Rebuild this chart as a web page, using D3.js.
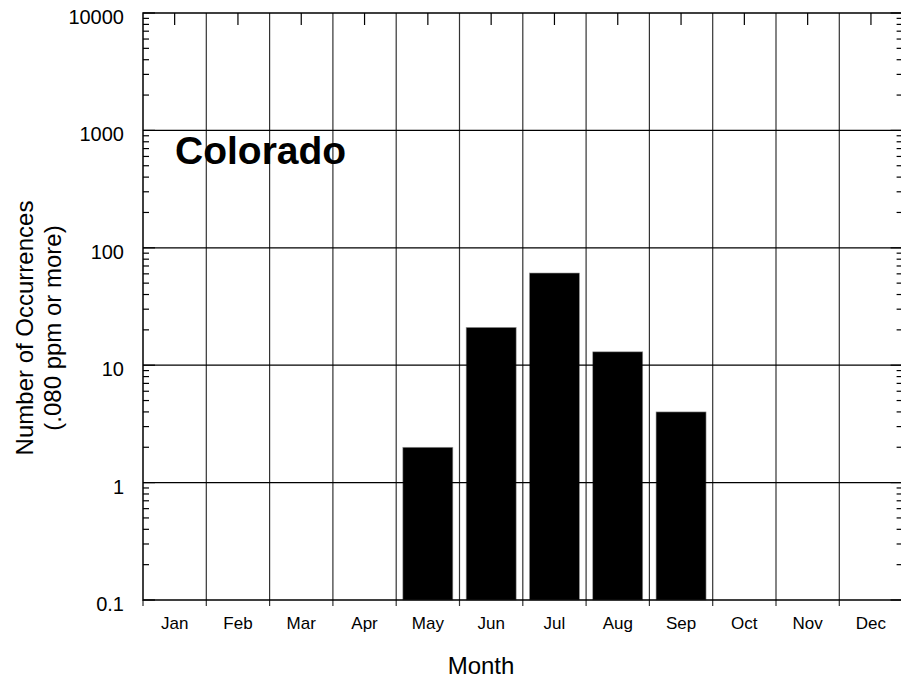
<html>
<head>
    <title>Colorado occurrences</title>
    <script src="https://cdn.jsdelivr.net/npm/d3@7"></script>
    <style type="text/css">
        body { margin: 0; background: white; }
        text { font-family: "Liberation Sans", Arial, sans-serif; fill: black; }
    </style>
</head>
<body>
    <script>
        var w = 901;
        var h = 684;
        var months = ["Jan", "Feb", "Mar", "Apr", "May", "Jun", "Jul", "Aug", "Sep", "Oct", "Nov", "Dec"];
        // 0 = no occurrences, nothing drawn on a log axis
        var counts = [0, 0, 0, 0, 2, 21, 61, 13, 4, 0, 0, 0];
        var yTicks = [0.1, 1, 10, 100, 1000, 10000];
        var yLabels = ["0.1", "1", "10", "100", "1000", "10000"];

        // plot box (not "top": that name is taken by window.top)
        var pL = 143, pR = 902.6, pT = 13, pB = 600;

        var svg = d3.select("body")
            .append("svg")
            .attr("width", w)
            .attr("height", h);

        var x = d3.scaleBand()
            .domain(months)
            .range([pL, pR])
            .paddingInner(0.21)
            .paddingOuter(0.105);
        var xEdge = d3.scaleLinear().domain([0, months.length]).range([pL, pR]);
        var y = d3.scaleLog().domain([0.1, 10000]).range([pB, pT]);

        // minor ticks 2..9 in each decade
        var minor = [];
        yTicks.slice(0, -1).forEach(function(t) {
            for (var k = 2; k <= 9; k++) minor.push(t * k);
        });

        // bars
        svg.selectAll("rect.bar")
            .data(months.map(function(m, i) { return {m: m, v: counts[i]}; }).filter(function(d) { return d.v > 0; }))
            .enter()
            .append("rect")
            .attr("class", "bar")
            .attr("x", function(d) { return x(d.m); })
            .attr("y", function(d) { return y(d.v); })
            .attr("width", x.bandwidth())
            .attr("height", function(d) { return pB - y(d.v); })
            .attr("fill", "black")
            .attr("stroke", "#999")
            .attr("stroke-width", 0.6);

        // vertical grid at month boundaries, running a bit below the axis
        svg.selectAll("line.vgrid")
            .data(d3.range(1, months.length))
            .enter()
            .append("line")
            .attr("x1", function(d) { return xEdge(d); })
            .attr("x2", function(d) { return xEdge(d); })
            .attr("y1", pT)
            .attr("y2", pB + 6)
            .attr("stroke", "#333")
            .attr("stroke-width", 1.2);

        // horizontal grid at decades
        svg.selectAll("line.hgrid")
            .data(yTicks.slice(1, -1))
            .enter()
            .append("line")
            .attr("x1", pL)
            .attr("x2", pR)
            .attr("y1", function(d) { return y(d); })
            .attr("y2", function(d) { return y(d); })
            .attr("stroke", "black")
            .attr("stroke-width", 1.2);

        // frame: left, top, bottom
        svg.append("path")
            .attr("d", "M" + pR + "," + pT + "H" + pL + "V" + pB + "H" + pR)
            .attr("fill", "none")
            .attr("stroke", "black")
            .attr("stroke-width", 1.5);
        svg.append("line")
            .attr("x1", pL).attr("x2", pL)
            .attr("y1", pB).attr("y2", pB + 6)
            .attr("stroke", "black");

        // top ticks at month centres, pointing in
        svg.selectAll("line.topTick")
            .data(months)
            .enter()
            .append("line")
            .attr("x1", function(d) { return x(d) + x.bandwidth() / 2; })
            .attr("x2", function(d) { return x(d) + x.bandwidth() / 2; })
            .attr("y1", pT)
            .attr("y2", pT + 12)
            .attr("stroke", "black")
            .attr("stroke-width", 1.2);

        // left and right y ticks, pointing in
        [pL, pR].forEach(function(edge) {
            var dir = edge === pL ? 1 : -1;
            svg.selectAll(null)
                .data(yTicks)
                .enter()
                .append("line")
                .attr("x1", edge)
                .attr("x2", edge + dir * 12)
                .attr("y1", function(d) { return y(d); })
                .attr("y2", function(d) { return y(d); })
                .attr("stroke", "black")
                .attr("stroke-width", 1.2);
            svg.selectAll(null)
                .data(minor)
                .enter()
                .append("line")
                .attr("x1", edge)
                .attr("x2", edge + dir * 6)
                .attr("y1", function(d) { return y(d); })
                .attr("y2", function(d) { return y(d); })
                .attr("stroke", "black")
                .attr("stroke-width", 1.2);
        });

        // y tick labels
        svg.selectAll("text.ylab")
            .data(yTicks)
            .enter()
            .append("text")
            .attr("x", 124)
            .attr("y", function(d) { return y(d) + 11; })
            .attr("text-anchor", "end")
            .attr("font-size", "20px")
            .text(function(d, i) { return yLabels[i]; });

        // month labels
        svg.selectAll("text.xlab")
            .data(months)
            .enter()
            .append("text")
            .attr("x", function(d) { return x(d) + x.bandwidth() / 2; })
            .attr("y", 629)
            .attr("text-anchor", "middle")
            .attr("font-size", "17px")
            .text(function(d) { return d; });

        // axis titles
        svg.append("text")
            .attr("x", 481)
            .attr("y", 674)
            .attr("text-anchor", "middle")
            .attr("font-size", "24px")
            .text("Month");

        var yt = svg.append("text")
            .attr("transform", "translate(0,328) rotate(-90)")
            .attr("text-anchor", "middle")
            .attr("font-size", "24px");
        yt.append("tspan").attr("x", 0).attr("y", 33).text("Number of Occurrences");
        yt.append("tspan").attr("x", 0).attr("y", 61).text("(.080 ppm or more)");

        svg.append("text")
            .attr("x", 175)
            .attr("y", 164)
            .attr("font-size", "39px")
            .attr("font-weight", "bold")
            .text("Colorado");
    </script>
</body>
</html>
